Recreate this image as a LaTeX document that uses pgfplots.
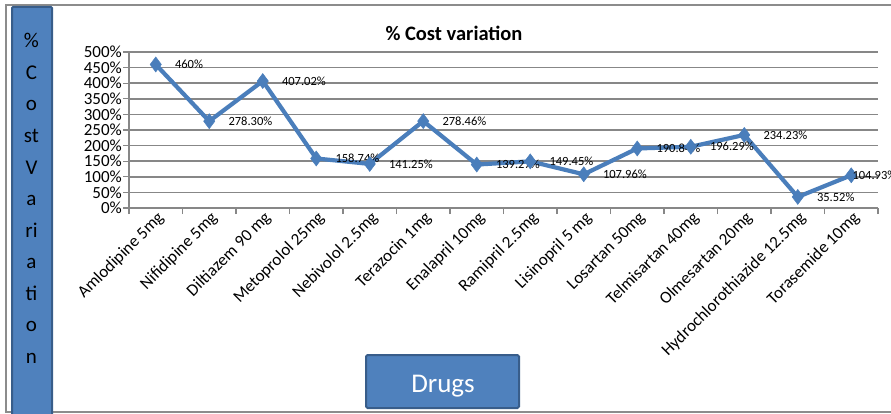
\documentclass[border=0pt]{standalone}
\usepackage{fontspec}
\setmainfont{Carlito}
\usepackage{pgfplots}
\usepackage{pgfplotstable}
\pgfplotsset{compat=1.18}

\definecolor{serieblue}{HTML}{4A7EBB}
\definecolor{boxblue}{HTML}{4F81BD}
\definecolor{boxedge}{HTML}{385D8A}
\definecolor{gridgray}{HTML}{878787}
\definecolor{framegray}{HTML}{8C8C8C}

% cost variation per drug (%), label text and label offset
\pgfplotstableread{
x    y       lab      dx
0.5  460     460      19
1.5  278.30  278.30   19
2.5  407.02  407.02   19
3.5  158.74  158.74   19
4.5  141.25  141.25   19
5.5  278.46  278.46   19
6.5  139.27  139.27   19
7.5  149.45  149.45   19
8.5  107.96  107.96   19
9.5  190.84  190.84   19
10.5 196.29  196.29   19
11.5 234.23  234.23   19
12.5 35.52   35.52    19
13.5 104.93  104.93   1
}\costdata

\begin{document}
\begin{tikzpicture}[x=1pt,y=1pt]
% outer chart frame
\draw[framegray, line width=1.5pt] (6,1) rectangle (900,408);

% vertical axis title box
\draw[boxedge, fill=boxblue, line width=2pt, rounded corners=1pt] (12,-5) rectangle (52,406);
\foreach \t [count=\i] in {\%,C,o,st,V,a,ri,a,ti,o,n}
  \node[anchor=base, inner sep=0pt, font=\fontsize{21}{24}\selectfont] at (31.5,{365-31.5*(\i-1)}) {\t};

% horizontal axis title box
\draw[boxedge, fill=boxblue, line width=2pt, rounded corners=1.5pt] (366,5) rectangle (519,58);
\node[anchor=base, inner sep=0pt, text=white, font=\fontsize{27}{30}\selectfont] at (443,20.5) {Drugs};

% chart title
\node[anchor=base, inner sep=0pt, font=\fontsize{20.5}{24}\selectfont\bfseries] at (454,372.5) {\% Cost variation};

\begin{axis}[
  at={(129pt,205pt)}, anchor=south west,
  scale only axis, width=749pt, height=156pt,
  xmin=0, xmax=14, ymin=0, ymax=500,
  clip=false,
  axis x line*=bottom, axis y line*=left,
  axis line style={draw=gridgray, line width=1.3pt, -},
  /pgf/number format/assume math mode=true,
  ytick={0,50,...,500},
  yticklabel={\pgfmathprintnumber{\tick}\%},
  yticklabel style={font=\fontsize{17}{18}\selectfont, inner sep=1pt},
  ymajorgrids,
  grid style={draw=gridgray, line width=1.5pt},
  tick align=outside,
  major tick length=6pt,
  minor tick length=6pt,
  ytick style={draw=gridgray, line width=1.3pt},
  major x tick style={draw=none},
  minor x tick style={draw=gridgray, line width=1.3pt},
  xtick={0.5,1.5,...,13.5},
  minor xtick={0,1,...,14},
  xticklabels={Amlodipine 5mg, Nifidipine 5mg, Diltiazem 90 mg, Metoprolol 25mg,
    Nebivolol 2.5mg, Terazocin 1mg, Enalapril 10mg, Ramipril 2.5mg,
    Lisinopril 5 mg, Losartan 50mg, Telmisartan 40mg, Olmesartan 20mg,
    Hydrochlorothiazide 12.5mg, Torasemide 10mg},
  xticklabel style={rotate=45, anchor=east, inner sep=2pt,
    font=\fontsize{17}{18}\selectfont, xshift=5pt, yshift=-5pt},
]
\addplot[serieblue, line width=4.2pt, mark=diamond*, mark size=7.5pt,
  mark options={fill=serieblue, line width=0.5pt},
  point meta=explicit symbolic,
  visualization depends on={\thisrow{dx} \as \labdx},
  nodes near coords={\pgfplotspointmeta\%},
  every node near coord/.append style={anchor=west, inner sep=0pt,
    xshift=\labdx pt, text=black, font=\fontsize{12.5}{14}\selectfont},
] table[x=x, y=y, meta=lab] {\costdata};
\end{axis}

\pgfresetboundingbox
\useasboundingbox (0,0) rectangle (891,413);
\end{tikzpicture}
\end{document}
